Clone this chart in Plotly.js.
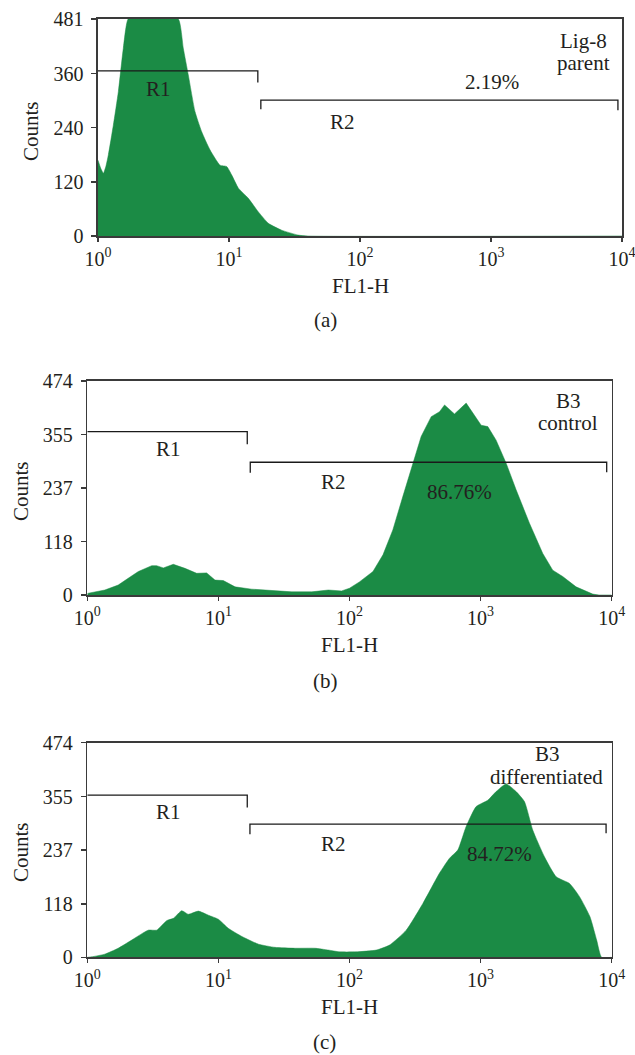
<!DOCTYPE html>
<html>
<head>
<meta charset="utf-8">
<script src="https://cdn.plot.ly/plotly-3.0.1.min.js"></script>
<style>
  html, body { margin: 0; padding: 0; background: #fff; }
  #chart { width: 635px; height: 1055px; }
</style>
</head>
<body>
<div id="chart"></div>
<script>
// ---------- data ----------
// Panel (a): Lig-8 parent
const fl1A = [1.00, 1.05, 1.10, 1.15, 1.20, 1.31, 1.43, 1.56, 1.70, 2.0, 3.0, 4.10, 4.48, 4.89, 5.50, 6.19, 7.16, 8.54, 9.6, 10.5, 11.8, 14.0, 16.7, 20.0, 25.2, 33.8, 40, 10000];
const countsA = [168, 150, 139, 155, 180, 246, 320, 416, 481, 481, 481, 481, 416, 357, 276, 231, 191, 157, 154, 135, 106, 84, 54, 28, 13, 2, 0, 0];

// Panel (b): B3 control
const fl1B = [1.0, 1.02, 1.36, 1.72, 2.05, 2.45, 3.10, 3.38, 3.80, 4.53, 5.56, 6.83, 8.14, 9.42, 10.9, 13.4, 17.9, 25.5, 36.3, 51.5, 69, 87, 100, 119, 151, 180, 214, 255, 304, 352, 420, 486, 531, 632, 776, 872, 1010, 1135, 1313, 1566, 1866, 2359, 2980, 3550, 4230, 5350, 7170, 8000, 10000];
const countsB = [3, 4, 11, 22, 37, 52, 65, 65, 60, 68, 59, 48, 49, 33, 32, 18, 13, 10, 7, 7, 11, 9, 15, 29, 52, 89, 144, 218, 292, 351, 395, 406, 421, 401, 425, 402, 376, 373, 343, 292, 233, 159, 92, 55, 41, 18, 2, 0, 0];

// Panel (c): B3 differentiated
const fl1C = [1.0, 1.08, 1.36, 1.72, 2.18, 2.92, 3.38, 4.03, 4.53, 5.25, 5.90, 7.03, 8.38, 10.0, 11.9, 15.1, 20.2, 27.0, 38.4, 54.6, 69, 84, 112, 160, 202, 271, 363, 486, 580, 670, 776, 925, 1135, 1313, 1566, 1866, 2160, 2500, 3070, 3770, 4770, 5680, 6820, 7680, 8370, 10000];
const countsC = [0, 1, 7, 20, 38, 60, 60, 81, 86, 103, 95, 102, 93, 84, 64, 46, 29, 22, 20, 20, 16, 12, 12, 16, 27, 60, 119, 186, 219, 237, 289, 333, 347, 366, 383, 366, 344, 281, 222, 178, 163, 134, 90, 38, 0, 0];

// Gates (marker regions)
const gateR1A_x = [1, 16.6, 16.6];        const gateR1A_y = [366, 366, 340];
const gateR2A_x = [17.5, 17.5, 9310, 9310]; const gateR2A_y = [281, 301, 301, 279];
const gateR1B_x = [1, 16.6, 16.6];        const gateR1B_y = [362, 362, 334];
const gateR2B_x = [17.5, 17.5, 9160, 9160]; const gateR2B_y = [271, 294, 294, 272];
const gateR1C_x = [1, 16.6, 16.6];        const gateR1C_y = [358, 358, 331];
const gateR2C_x = [17.4, 17.4, 9060, 9060]; const gateR2C_y = [272, 294, 294, 274];

// Tick labels
const xTickVals = [1, 10, 100, 1000, 10000];
const xTickText = ['10<sup>0</sup>', '10<sup>1</sup>', '10<sup>2</sup>', '10<sup>3</sup>', '10<sup>4</sup>'];
const yTickValsA = [0, 120, 240, 360, 481];
const yTickValsBC = [0, 118, 237, 355, 474];

// Labels
const percentLabels = ['2.19%', '86.76%', '84.72%'];
const sampleLabels = [['Lig-8', 'parent'], ['B3', 'control'], ['B3', 'differentiated']];
const panelLabels = ['(a)', '(b)', '(c)'];

// ---------- styling ----------
const W = 635, H = 1055;
const GREEN = '#1b8b45';
const INK = '#231f20';
const AXIS = '#3a3a3a';
const FONT = 'Liberation Serif, Times New Roman, serif';
const FS_TICK = 20;
const FS = 21;

function px(x) { return x / W; }
function py(y) { return 1 - y / H; }

function histTrace(x, y, xa, ya, smooth) {
  return { x: x, y: y, xaxis: xa, yaxis: ya, type: 'scatter', mode: 'lines',
           fill: 'tozeroy', fillcolor: GREEN,
           line: { color: GREEN, width: 0.5, shape: smooth ? 'spline' : 'linear', smoothing: 0.5 },
           hoverinfo: 'skip' };
}
function gateTrace(x, y, xa, ya) {
  return { x: x, y: y, xaxis: xa, yaxis: ya, type: 'scatter', mode: 'lines',
           line: { color: '#1a1a1a', width: 1.3 }, hoverinfo: 'skip' };
}

const data = [
  histTrace(fl1A, countsA, 'x', 'y', true),
  histTrace(fl1B, countsB, 'x2', 'y2', false),
  histTrace(fl1C, countsC, 'x3', 'y3', true),
  gateTrace(gateR1A_x, gateR1A_y, 'x', 'y'),
  gateTrace(gateR2A_x, gateR2A_y, 'x', 'y'),
  gateTrace(gateR1B_x, gateR1B_y, 'x2', 'y2'),
  gateTrace(gateR2B_x, gateR2B_y, 'x2', 'y2'),
  gateTrace(gateR1C_x, gateR1C_y, 'x3', 'y3'),
  gateTrace(gateR2C_x, gateR2C_y, 'x3', 'y3')
];

function xAxis(domain, anchor) {
  return {
    type: 'log', range: [0, 4], domain: domain, anchor: anchor,
    tickvals: xTickVals, ticktext: xTickText,
    ticks: 'outside', ticklen: 4, tickwidth: 1.3, tickcolor: AXIS,
    showline: true, linecolor: AXIS, linewidth: 1.6, mirror: true,
    showgrid: false, zeroline: false, fixedrange: true,
    ticklabeloverflow: 'allow',
    tickfont: { family: FONT, size: FS_TICK, color: INK }
  };
}
function yAxis(domain, anchor, maxV, tv) {
  return {
    range: [0, maxV], domain: domain, anchor: anchor,
    tickvals: tv, ticktext: tv.map(String),
    ticks: 'outside', ticklen: 5, tickwidth: 1.3, tickcolor: AXIS,
    showline: true, linecolor: AXIS, linewidth: 1.6, mirror: true,
    showgrid: false, zeroline: false, fixedrange: true,
    ticklabelstandoff: 4, ticklabeloverflow: 'allow',
    tickfont: { family: FONT, size: FS_TICK, color: INK }
  };
}

function ann(text, x, y, extra) {
  return Object.assign({
    text: text, xref: 'paper', yref: 'paper', x: px(x), y: py(y),
    xanchor: 'center', yanchor: 'middle', showarrow: false,
    font: { family: FONT, size: FS, color: INK }
  }, extra || {});
}

const annotations = [
  // panel (a)
  ann('R1', 158, 89), ann('R2', 343, 122), ann(percentLabels[0], 492, 82),
  ann(sampleLabels[0][0], 583, 41), ann(sampleLabels[0][1], 583, 63),
  ann('Counts', 31, 131, { textangle: -90 }),
  ann('FL1-H', 360, 286), ann(panelLabels[0], 325, 320),
  // panel (b)
  ann('R1', 168, 449), ann('R2', 333, 482), ann(percentLabels[1], 459, 492),
  ann(sampleLabels[1][0], 568, 401), ann(sampleLabels[1][1], 568, 423),
  ann('Counts', 21, 491, { textangle: -90 }),
  ann('FL1-H', 349, 645), ann(panelLabels[1], 325, 681),
  // panel (c)
  ann('R1', 168, 812), ann('R2', 333, 844), ann(percentLabels[2], 499, 854),
  ann(sampleLabels[2][0], 547, 754), ann(sampleLabels[2][1], 546, 777),
  ann('Counts', 21, 852, { textangle: -90 }),
  ann('FL1-H', 349, 1007), ann(panelLabels[2], 324, 1042)
];

const layout = {
  width: W, height: H,
  margin: { l: 0, r: 0, t: 0, b: 0 },
  paper_bgcolor: '#fff', plot_bgcolor: '#fff',
  showlegend: false,
  xaxis: xAxis([98 / W, 622 / W], 'y'),
  yaxis: yAxis([py(236), py(19)], 'x', 481, yTickValsA),
  xaxis2: xAxis([87.3 / W, 611.7 / W], 'y2'),
  yaxis2: yAxis([py(595), py(381)], 'x2', 474, yTickValsBC),
  xaxis3: xAxis([87.3 / W, 611.7 / W], 'y3'),
  yaxis3: yAxis([py(957.3), py(742.7)], 'x3', 474, yTickValsBC),
  annotations: annotations
};

Plotly.newPlot('chart', data, layout, { staticPlot: true, displayModeBar: false });
</script>
</body>
</html>
